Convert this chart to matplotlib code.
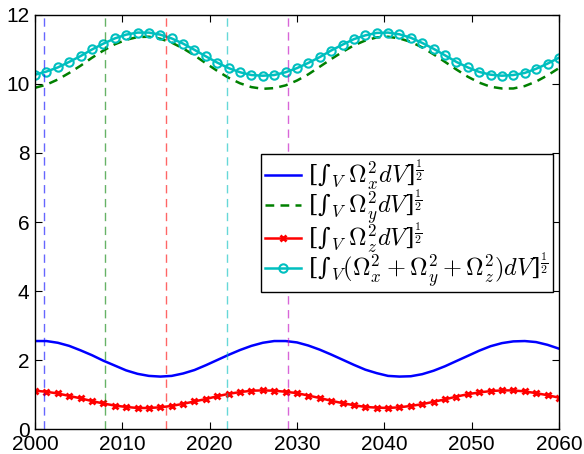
import numpy as np
import matplotlib
matplotlib.use("Agg")
import matplotlib.pyplot as plt

plt.rcParams['font.family'] = ['Liberation Sans', 'DejaVu Sans']
plt.rcParams['mathtext.fontset'] = 'cm'

# sample times (years)
years = [2000.00, 2001.30, 2002.61, 2003.91, 2005.22, 2006.52, 2007.83, 2009.13,
         2010.43, 2011.74, 2013.04, 2014.35, 2015.65, 2016.96, 2018.26, 2019.57,
         2020.87, 2022.17, 2023.48, 2024.78, 2026.09, 2027.39, 2028.70, 2030.00,
         2031.30, 2032.61, 2033.91, 2035.22, 2036.52, 2037.83, 2039.13, 2040.43,
         2041.74, 2043.04, 2044.35, 2045.65, 2046.96, 2048.26, 2049.57, 2050.87,
         2052.17, 2053.48, 2054.78, 2056.09, 2057.39, 2058.70, 2060.00]

# vorticity norms per component
omega_x = [2.55, 2.55, 2.50, 2.41, 2.28, 2.14, 1.98, 1.84, 1.70, 1.60, 1.54, 1.52,
           1.54, 1.61, 1.71, 1.85, 2.00, 2.15, 2.29, 2.41, 2.50, 2.55, 2.55, 2.51,
           2.42, 2.30, 2.16, 2.01, 1.86, 1.72, 1.62, 1.54, 1.52, 1.53, 1.59, 1.69,
           1.82, 1.97, 2.12, 2.27, 2.40, 2.49, 2.54, 2.55, 2.52, 2.44, 2.33]
omega_y = [9.89, 9.98, 10.13, 10.32, 10.53, 10.76, 10.97, 11.15, 11.28, 11.36, 11.37,
           11.31, 11.20, 11.03, 10.83, 10.60, 10.38, 10.18, 10.02, 9.91, 9.86, 9.88,
           9.96, 10.10, 10.28, 10.50, 10.72, 10.93, 11.12, 11.26, 11.35, 11.37, 11.32,
           11.22, 11.06, 10.86, 10.64, 10.42, 10.21, 10.04, 9.92, 9.87, 9.87, 9.94,
           10.07, 10.25, 10.46]
omega_z = [1.11, 1.08, 1.03, 0.96, 0.89, 0.81, 0.74, 0.68, 0.64, 0.61, 0.61, 0.63,
           0.67, 0.73, 0.80, 0.87, 0.95, 1.02, 1.07, 1.11, 1.12, 1.11, 1.08, 1.04,
           0.97, 0.90, 0.82, 0.75, 0.69, 0.64, 0.62, 0.61, 0.63, 0.67, 0.72, 0.79,
           0.86, 0.94, 1.01, 1.06, 1.10, 1.12, 1.12, 1.09, 1.04, 0.98, 0.91]
omega_all = [10.27, 10.36, 10.48, 10.64, 10.81, 11.00, 11.17, 11.32, 11.43, 11.49,
             11.49, 11.43, 11.32, 11.17, 10.99, 10.80, 10.62, 10.46, 10.34, 10.26,
             10.24, 10.26, 10.34, 10.46, 10.61, 10.78, 10.97, 11.14, 11.30, 11.41,
             11.48, 11.49, 11.44, 11.34, 11.19, 11.02, 10.83, 10.64, 10.48, 10.35,
             10.27, 10.24, 10.26, 10.32, 10.44, 10.59, 10.76]

# snapshot years marked with vertical lines
snap_years = [2001, 2008, 2015, 2022, 2029]
snap_colors = ['b', 'g', 'r', 'c', 'm']

# plain-text integral sign keeps it at text size (mathtext \int is display size)
labels = [r'[∫${}_V\;\Omega_x^2 dV$]$^{\frac{1}{2}}$',
          r'[∫${}_V\;\Omega_y^2 dV$]$^{\frac{1}{2}}$',
          r'[∫${}_V\;\Omega_z^2 dV$]$^{\frac{1}{2}}$',
          r'[∫${}_V(\Omega_x^2+\Omega_y^2+\Omega_z^2)dV$]$^{\frac{1}{2}}$']

fig = plt.figure(figsize=(5.84, 4.54), dpi=100)
ax = fig.add_axes([0.060, 0.055, 0.897, 0.912])

ax.plot(years, omega_x, color='b', lw=1.8, label=labels[0])
ax.plot(years, omega_y, color='g', lw=1.8, ls=(0, (3.5, 2.5)), label=labels[1])
ax.plot(years, omega_z, color='r', lw=1.8, marker='x', ms=5, mew=2, label=labels[2])
ax.plot(years, omega_all, color='c', lw=1.8, marker='o', ms=6, mfc='none',
        mew=1.5, label=labels[3])

for yr, col in zip(snap_years, snap_colors):
    ax.axvline(yr, color=col, lw=1, ls=(0, (6, 4)), alpha=0.6)

ax.set_xlim(2000, 2060)
ax.set_ylim(0, 12)
ax.set_xticks([2000, 2010, 2020, 2030, 2040, 2050, 2060])
ax.set_yticks([0, 2, 4, 6, 8, 10, 12])
ax.tick_params(direction='in', top=True, right=True, labelsize=15, length=5)
ax.tick_params(axis='x', pad=4)
ax.tick_params(axis='y', pad=4)
for sp in ax.spines.values():
    sp.set_linewidth(1.0)

leg = ax.legend(loc='upper right', bbox_to_anchor=(0.9885, 0.664),
                prop={'family': 'DejaVu Serif', 'size': 17.5},
                fancybox=False, framealpha=1, edgecolor='k', handlelength=1.5,
                borderpad=0.15, labelspacing=-0.2, handletextpad=0.3,
                borderaxespad=0)
leg.get_frame().set_linewidth(1.0)

fig.savefig('out.png', dpi=100)
